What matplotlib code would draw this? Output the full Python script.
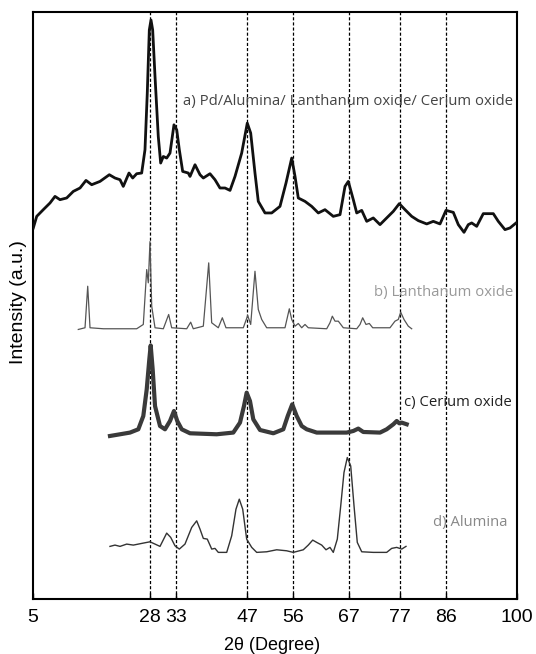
import numpy as np
import matplotlib
matplotlib.use("Agg")
import matplotlib.pyplot as plt

# XRD patterns (2-theta in degrees, intensity in arbitrary units)
a_theta = [5.06, 5.73, 7.02, 8.34, 9.32, 10.30, 11.61, 12.91, 14.23, 15.40, 16.52, 18.15,
           19.98, 21.09, 22.08, 22.72, 23.84, 24.57, 25.35, 26.33, 26.98, 27.43, 27.83, 28.16,
           28.49, 28.95, 29.59, 30.06, 30.58, 31.24, 31.89, 32.67, 33.21, 33.72, 34.38, 35.48,
           35.82, 36.80, 37.78, 38.43, 39.74, 40.72, 41.70, 42.69, 43.67, 44.65, 45.96, 47.06,
           47.73, 48.57, 49.22, 50.54, 51.85, 53.48, 54.66, 55.78, 56.43, 57.07, 58.39, 59.70,
           61.00, 62.31, 63.94, 65.26, 66.24, 66.89, 67.87, 68.54, 69.52, 70.50, 71.79, 73.11,
           74.42, 75.72, 76.89, 78.02, 79.33, 80.63, 82.28, 83.57, 84.89, 86.06, 87.50, 88.48,
           89.60, 90.44, 91.11, 92.09, 93.38, 95.35, 96.33, 97.64, 98.63, 99.80]
a_int = [371.7, 383.3, 390, 396.7, 403.3, 400, 401.7, 408.3, 411.7, 419.3, 415, 418.3,
         425, 421.7, 420, 413.3, 426.7, 421.7, 426, 426.7, 450, 506.7, 570, 580,
         570, 523.3, 463.3, 436.7, 443.3, 441.7, 446.7, 475, 470, 450, 428.3, 426.7,
         423.3, 435, 425, 421.7, 426, 420, 411.7, 411.7, 409.3, 423.3, 446.7, 476.7,
         466.7, 426.7, 398.3, 386.7, 386.7, 393.3, 416.7, 441.7, 423.3, 401.7, 398.3, 393.3,
         386.7, 390, 383.3, 385, 413.3, 418.3, 400, 386.7, 389.3, 378.3, 381.7, 375,
         381.7, 388.3, 396, 390, 383.3, 379, 375.7, 378.3, 375.7, 389.3, 387.3, 375,
         367.3, 375, 376.7, 373.3, 386, 386, 378.3, 370, 371.7, 376.6]

b_theta = [13.89, 15.21, 15.74, 16.19, 18.80, 25.35, 26.65, 27.32, 27.63, 27.96, 28.30, 28.95,
           30.58, 31.63, 32.22, 35.17, 35.95, 36.46, 38.43, 39.49, 40.07, 41.37, 42.16, 42.88,
           46.28, 47.14, 47.73, 48.57, 49.22, 49.89, 50.87, 54.13, 54.46, 55.31, 55.78, 56.43,
           57.07, 57.74, 58.39, 59.03, 62.65, 63.29, 63.75, 64.28, 64.93, 65.91, 68.54, 69.19,
           69.71, 70.36, 71.01, 71.68, 75.07, 76.05, 76.70, 77.17, 77.82, 78.66, 79.33]
b_int = [270, 271.7, 313.3, 271.7, 270.7, 270.7, 275, 330, 316.7, 358, 293.3, 271.7,
         270.7, 285, 271.7, 270.7, 277.3, 270.7, 273.3, 336.7, 276.7, 271.7, 281.7, 271.7,
         271.7, 284, 275, 328.3, 290, 280, 271.7, 271.7, 271.7, 290.7, 280, 273.3,
         276, 271.7, 275, 271.7, 270.7, 276.7, 283.3, 278.3, 278.3, 271.7, 270.7, 275,
         281.7, 275, 276, 271.7, 271.7, 278.3, 280, 287.3, 280, 273.3, 270.7]

c_theta = [20.11, 22.08, 24.04, 25.67, 26.65, 27.32, 27.83, 28.10, 28.49, 28.95, 29.93, 30.91,
           31.89, 32.67, 33.32, 34.19, 35.82, 41.05, 44.31, 45.63, 46.41, 46.94, 47.59, 48.24,
           49.56, 52.17, 54.13, 55.00, 55.88, 56.76, 57.74, 58.72, 60.69, 66.57, 67.87, 68.85,
           69.83, 73.11, 74.42, 75.72, 76.39, 76.89, 77.37, 78.35]
c_int = [163.3, 165, 166.7, 170, 183.3, 210, 240, 254, 230, 193.3, 173.3, 170,
         178.3, 188.3, 178.3, 170, 166, 165, 166.7, 176.7, 193.3, 206.7, 198.3, 180,
         169.3, 166, 170, 183.3, 195, 183.3, 173.3, 170, 166.7, 166.7, 168.3, 170.7,
         167.3, 166.7, 170, 175, 178.3, 176, 176.7, 175]

d_theta = [20.11, 21.09, 22.08, 23.39, 24.69, 26.65, 27.96, 28.95, 29.93, 31.24, 32.03, 32.87,
           33.72, 34.83, 36.15, 37.13, 37.78, 38.43, 39.21, 40.08, 40.72, 41.37, 43.02, 44.00,
           44.84, 45.49, 46.16, 46.94, 47.93, 48.91, 50.87, 52.83, 54.79, 56.09, 58.05, 59.03,
           59.90, 60.69, 61.67, 62.51, 63.29, 63.94, 64.73, 65.40, 66.04, 66.69, 67.36, 68.01,
           68.65, 69.52, 71.79, 74.42, 75.40, 76.39, 77.37, 78.21]
d_int = [52.7, 54, 52.7, 55, 54, 56, 57.3, 55, 52.7, 66, 61.7, 53.3,
         50, 55, 71.7, 78.3, 70, 60.7, 60, 50, 50.7, 46.7, 46.7, 63.3,
         90, 100, 90, 60, 51.7, 46.7, 47.3, 49.3, 48.3, 46.7, 49.3, 54,
         59, 56.7, 54, 49.3, 51.7, 46.7, 60, 93.3, 126.7, 141.7, 133.3, 93.3,
         56.7, 47.3, 46.7, 46.7, 50.7, 51.7, 50, 52.7]

ref_lines = [28, 33, 47, 56, 67, 77, 86]
x_ticks = [5, 28, 33, 47, 56, 67, 77, 86, 100]

labels = ["a) Pd/Alumina/ Lanthanum oxide/ Cerium oxide", "b) Lanthanum oxide",
          "c) Cerium oxide", "d) Alumina"]
label_pos = [(99.2, 498.5), (99.2, 307.2), (99.0, 197.0), (98.2, 76.2)]
label_col = ["#444444", "#999999", "#222222", "#888888"]

fig = plt.figure(figsize=(5.36, 6.54), dpi=100)
ax = fig.add_axes([33 / 536, 55 / 654, 484 / 536, 587 / 654])

for xv in ref_lines:
    ax.axvline(xv, color="black", lw=0.9, linestyle=(0, (2.5, 1.6)), zorder=1)

ax.plot(a_theta, a_int, color="#111111", lw=2.0, zorder=3)
ax.plot(b_theta, b_int, color="#555555", lw=0.9, zorder=3)
ax.plot(c_theta, c_int, color="#3a3a3a", lw=3.0, zorder=3)
ax.plot(d_theta, d_int, color="#333333", lw=1.0, zorder=3)

for txt, (tx, ty), col in zip(labels, label_pos, label_col):
    ax.text(tx, ty, txt, ha="right", va="center", color=col, fontsize=10.7,
            family="Open Sans", zorder=4)

ax.set_xlim(5, 100)
ax.set_ylim(0, 588)
ax.set_xticks(x_ticks)
ax.set_xticklabels([str(t) for t in x_ticks], family="Liberation Sans", fontsize=14)
ax.set_yticks([])
ax.tick_params(axis="x", direction="in", length=4, width=1, pad=7)
for sp in ax.spines.values():
    sp.set_linewidth(1.5)

fig.text(19 / 536, 1 - 302 / 654, "Intensity (a.u.)", rotation=90, ha="center", va="center",
         family="Liberation Sans", fontsize=14)
fig.text(272 / 536, 1 - 645 / 654, "2\u03b8 (Degree)", ha="center", va="center",
         family="Liberation Sans", fontsize=13)

fig.savefig("out.png", dpi=100)
